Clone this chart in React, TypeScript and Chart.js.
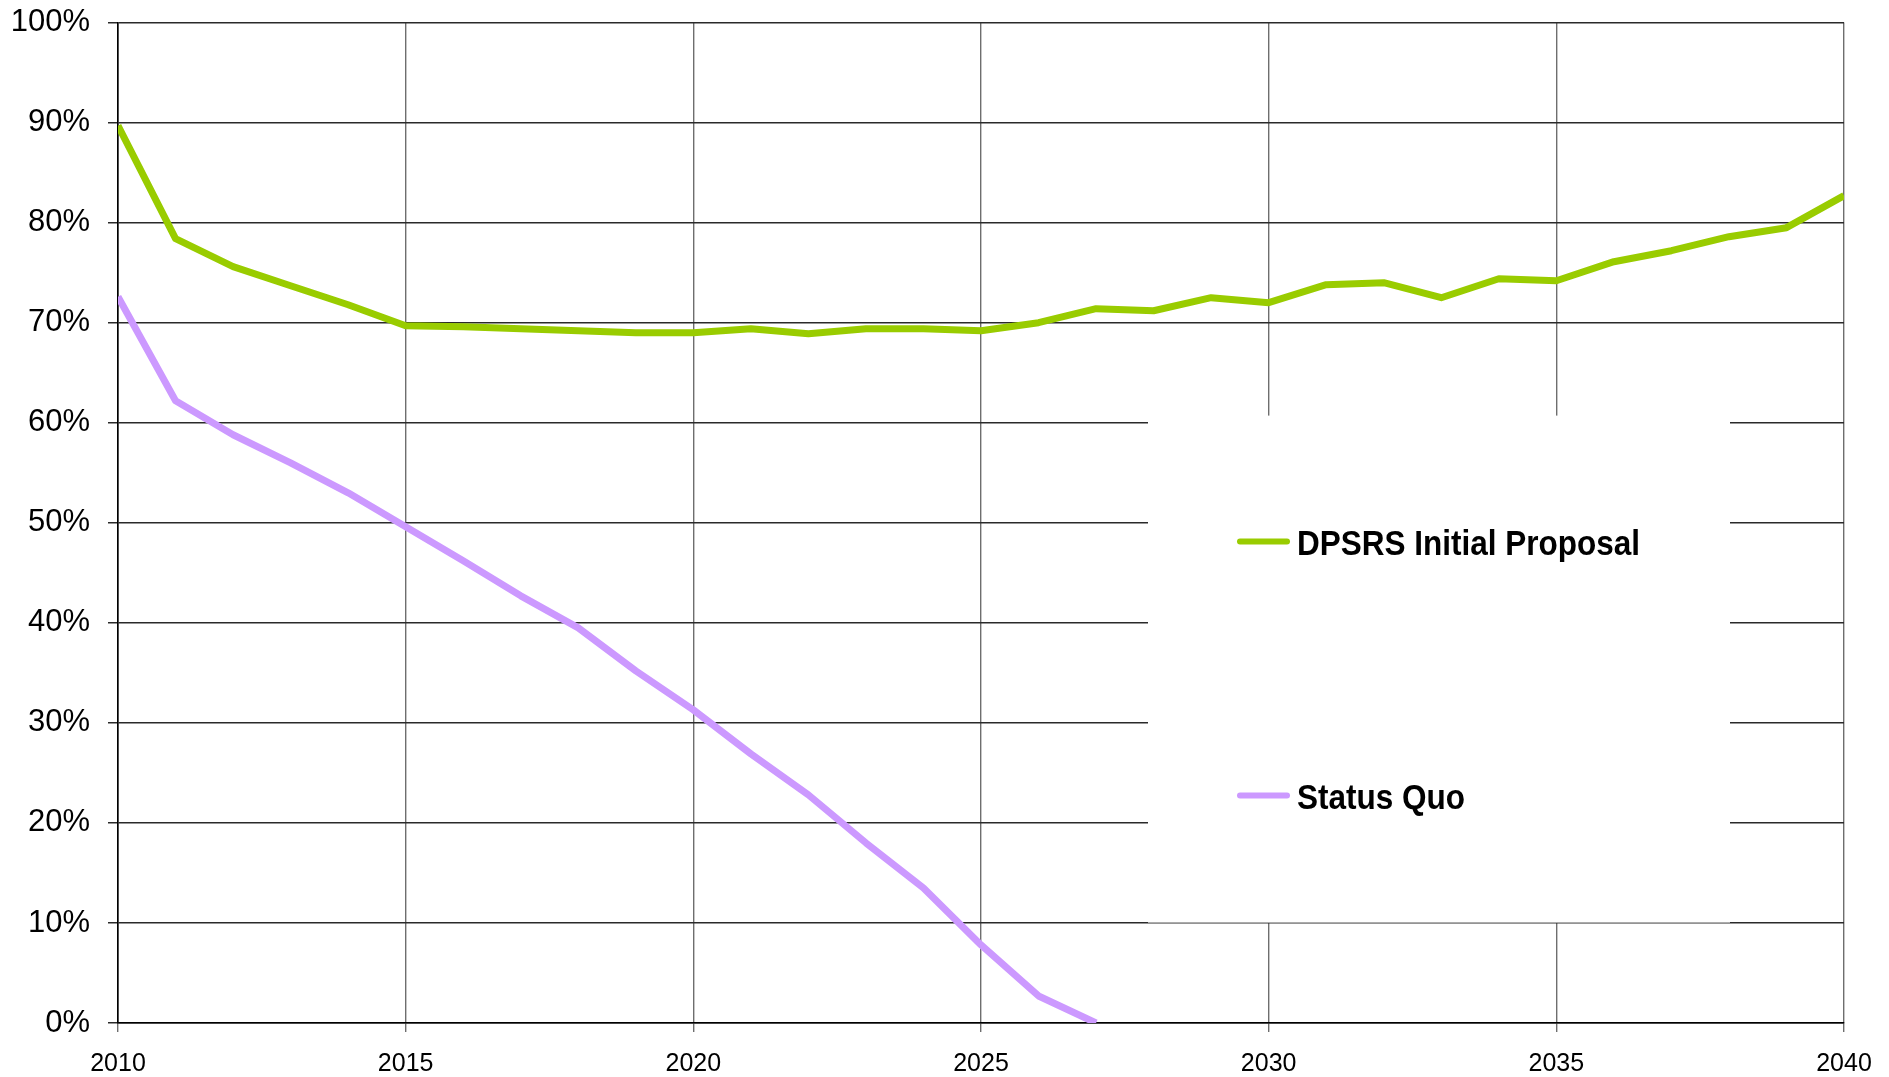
import React, { useEffect, useRef } from "react";
import { Chart, registerables } from "chart.js";

Chart.register(...registerables);

const years: number[] = [
  2010, 2011, 2012, 2013, 2014, 2015, 2016, 2017, 2018, 2019, 2020,
  2021, 2022, 2023, 2024, 2025, 2026, 2027, 2028, 2029, 2030,
  2031, 2032, 2033, 2034, 2035, 2036, 2037, 2038, 2039, 2040,
];

const dpsrsProposal: (number | null)[] = [
  89.7, 78.4, 75.6, 73.7, 71.8, 69.7, 69.6, 69.4, 69.2, 69.0, 69.0,
  69.4, 68.9, 69.4, 69.4, 69.2, 70.0, 71.4, 71.2, 72.5, 72.0,
  73.8, 74.0, 72.5, 74.4, 74.2, 76.1, 77.2, 78.6, 79.5, 82.7,
];

const statusQuo: (number | null)[] = [
  72.6, 62.2, 58.8, 56.0, 53.0, 49.6, 46.2, 42.7, 39.5, 35.2, 31.3,
  26.9, 22.8, 18.0, 13.5, 7.8, 2.7, 0, null, null, null,
  null, null, null, null, null, null, null, null, null, null,
];

const seriesLabels = ["DPSRS Initial Proposal", "Status Quo"];
const seriesColors = ["#99CC00", "#CC99FF"];

const legendBoxPlugin = {
  id: "legendBox",
  beforeDatasetsDraw(chart: any) {
    const { ctx, chartArea } = chart;
    const left = chartArea.left + 1030;
    const right = chartArea.left + 1612;
    const top = chartArea.top + 393;
    const bottom = chartArea.top + 900;
    ctx.save();
    ctx.fillStyle = "#ffffff";
    ctx.fillRect(left, top, right - left, bottom - top);
    const rows = [chartArea.top + 519, chartArea.top + 773];
    chart.data.datasets.forEach((ds: any, i: number) => {
      const y = rows[i];
      ctx.strokeStyle = ds.borderColor;
      ctx.lineWidth = 6;
      ctx.lineCap = "round";
      ctx.beginPath();
      ctx.moveTo(chartArea.left + 1122, y);
      ctx.lineTo(chartArea.left + 1169, y);
      ctx.stroke();
      ctx.fillStyle = "#000000";
      ctx.font = "bold 35px 'Liberation Sans', Arial, sans-serif";
      ctx.textBaseline = "alphabetic";
      ctx.textAlign = "left";
      ctx.save();
      ctx.translate(chartArea.left + 1179, y + 13);
      ctx.scale(0.9, 1);
      ctx.fillText(ds.label, 0, 0);
      ctx.restore();
    });
    ctx.restore();
  },
};

export default function App() {
  const canvasRef = useRef<HTMLCanvasElement | null>(null);

  useEffect(() => {
    if (!canvasRef.current) return;
    const makeData = (vals: (number | null)[]) =>
      years.map((yr, i) => ({ x: yr, y: vals[i] }));
    const chart = new Chart(canvasRef.current, {
      type: "line",
      data: {
        datasets: [
          {
            label: seriesLabels[0],
            data: makeData(dpsrsProposal) as any,
            borderColor: seriesColors[0],
            backgroundColor: seriesColors[0],
            borderWidth: 7,
            pointRadius: 0,
            tension: 0,
            borderJoinStyle: "round",
            spanGaps: false,
          },
          {
            label: seriesLabels[1],
            data: makeData(statusQuo) as any,
            borderColor: seriesColors[1],
            backgroundColor: seriesColors[1],
            borderWidth: 7,
            pointRadius: 0,
            tension: 0,
            borderJoinStyle: "round",
            spanGaps: false,
          },
        ],
      },
      options: {
        animation: false,
        responsive: true,
        maintainAspectRatio: false,
        layout: { padding: { top: 0, right: 45, left: 0, bottom: 0 } },
        plugins: {
          legend: { display: false },
          tooltip: { enabled: false },
        },
        scales: {
          x: {
            type: "linear",
            min: 2010,
            max: 2040,
            afterFit: (scale: any) => {
              scale.height = 54;
            },
            ticks: {
              stepSize: 5,
              padding: 17,
              color: "#000000",
              font: { family: "'Liberation Sans', Arial, sans-serif", size: 25 },
              callback: (v: any) => String(v),
              maxRotation: 0,
            },
            grid: {
              color: "#6e6e6e",
              lineWidth: 1.4,
              tickLength: 9,
              drawTicks: true,
            },
            border: { color: "#000000", width: 1.6 },
          },
          y: {
            min: 0,
            max: 100,
            afterFit: (scale: any) => {
              scale.width = 118;
            },
            ticks: {
              stepSize: 10,
              padding: 18,
              color: "#000000",
              font: { family: "'Liberation Sans', Arial, sans-serif", size: 31 },
              callback: (v: any) => v + "%",
            },
            grid: {
              color: "#2a2a2a",
              lineWidth: 1.5,
              tickLength: 10,
              drawTicks: true,
            },
            border: { color: "#000000", width: 1.6 },
          },
        },
      },
      plugins: [legendBoxPlugin],
    });
    return () => chart.destroy();
  }, []);

  return (
    <div
      style={{
        position: "fixed",
        left: 0,
        top: "-14px",
        width: "1889px",
        height: "1091px",
        background: "#ffffff",
      }}
    >
      <canvas ref={canvasRef} />
    </div>
  );
}
